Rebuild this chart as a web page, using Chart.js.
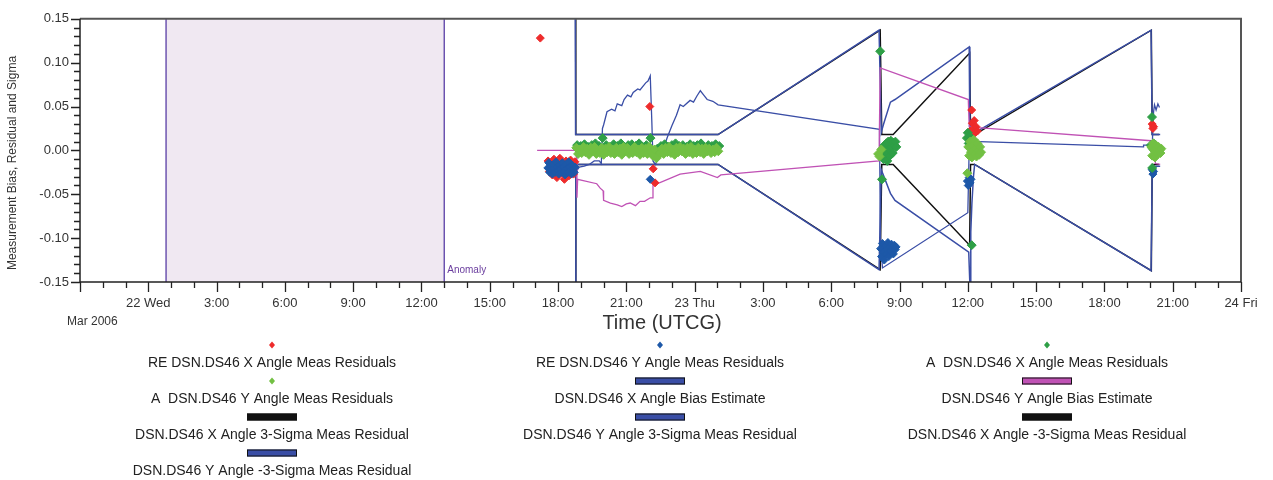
<!DOCTYPE html>
<html>
<head>
<meta charset="utf-8">
<script src="https://cdn.jsdelivr.net/npm/chart.js@4.4.1/dist/chart.umd.min.js"></script>
<style>
  html, body { margin: 0; padding: 0; background: #ffffff; }
  #wrap { width: 1273px; height: 480px; position: relative; }
</style>
</head>
<body>
<div id="wrap"><canvas id="chart" width="1273" height="480"></canvas></div>
<script>
// Time is measured in hours from 2006-03-22 00:00 UTCG.
const axisStartHour = -3;
const axisEndHour = 48;
const anomalyStartHour = 0.78;
const anomalyEndHour = 13.0;

// Axis ticks
const timeTickHours = [0, 3, 6, 9, 12, 15, 18, 21, 24, 27, 30, 33, 36, 39, 42, 45, 48];
const timeTickLabels = ['22 Wed', '3:00', '6:00', '9:00', '12:00', '15:00', '18:00', '21:00',
  '23 Thu', '3:00', '6:00', '9:00', '12:00', '15:00', '18:00', '21:00', '24 Fri'];
const valueTicks = [-0.15, -0.10, -0.05, 0.00, 0.05, 0.10, 0.15];

// RE DSN.DS46 X Angle Meas Residuals
const reXTimes = [17.22, 17.56, 17.62, 17.69, 17.75, 17.82, 17.88, 17.95, 18.02, 18.08, 18.15, 18.22,
  18.28, 18.35, 18.42, 18.48, 18.55, 18.62, 18.68, 18.74, 22.03, 22.18, 22.26,
  36.10, 36.17, 36.20, 36.24, 36.28, 36.32, 36.36, 36.42, 44.10, 44.13, 44.16];
const reXValues = [0.128, -0.012, -0.024, -0.016, -0.028, -0.010, -0.021, -0.031, -0.014, -0.009, -0.026, -0.018,
  -0.033, -0.012, -0.022, -0.029, -0.011, -0.020, -0.027, -0.013, 0.050, -0.021, -0.037,
  0.022, 0.046, 0.031, 0.024, 0.034, 0.020, 0.027, 0.022, 0.030, 0.025, 0.027];

// RE DSN.DS46 Y Angle Meas Residuals
const reYTimes = [17.55, 17.59, 17.63, 17.67, 17.71, 17.75, 17.79, 17.83, 17.87, 17.91, 17.95, 17.99,
  18.03, 18.07, 18.11, 18.15, 18.19, 18.23, 18.27, 18.31, 18.35, 18.39, 18.43, 18.47, 18.51, 18.55,
  18.59, 18.63, 18.67, 18.71, 18.75, 22.05,
  32.17, 32.21, 32.25, 32.29, 32.33, 32.37, 32.41, 32.45, 32.49, 32.53, 32.57, 32.61, 32.65, 32.69,
  32.73, 32.77, 32.81, 32.85,
  35.98, 36.02, 36.06, 36.10, 36.14, 44.10, 44.13, 44.16];
const reYValues = [-0.020, -0.014, -0.025, -0.018, -0.022, -0.027, -0.016, -0.021, -0.025, -0.013, -0.019, -0.023,
  -0.027, -0.017, -0.021, -0.025, -0.014, -0.019, -0.024, -0.028, -0.016, -0.021, -0.025, -0.013, -0.019, -0.023,
  -0.027, -0.017, -0.021, -0.025, -0.019, -0.033,
  -0.112, -0.121, -0.106, -0.116, -0.125, -0.109, -0.118, -0.113, -0.105, -0.121, -0.110, -0.115, -0.107, -0.112,
  -0.118, -0.108, -0.113, -0.110,
  -0.035, -0.040, -0.031, -0.037, -0.033, -0.022, -0.027, -0.024];

// A DSN.DS46 X Angle Meas Residuals: first pass sampled every 0.16 h, other points listed
const aXPass1Start = 18.84;
const aXPass1Step = 0.16;
const aXPass1Values = [0.006, 0.005, 0.007, 0.004, 0.006, 0.008, 0.005, 0.014, 0.006, 0.004,
  0.007, 0.005, 0.008, 0.004, 0.006, 0.007, 0.005, 0.008, 0.004, 0.006,
  0.003, -0.004, 0.002, 0.005, 0.007, 0.004, 0.006, 0.008, 0.005, 0.006,
  0.004, 0.007, 0.005, 0.006, 0.008, 0.004, 0.006, 0.005, 0.007, 0.005];
const aXTimes = [22.06, 32.15, 32.23, 32.26, 32.30, 32.34, 32.38, 32.42, 32.46, 32.50, 32.54, 32.58, 32.62,
  32.66, 32.70, 32.74, 32.78, 32.82, 32.86,
  35.96, 36.00, 36.04, 36.08, 36.12, 36.16, 36.17,
  44.04, 44.09, 44.10, 44.12, 44.16];
const aXValues = [0.014, 0.113, -0.033, 0.002, -0.010, 0.006, -0.004, 0.008, -0.012, 0.010, 0.002, -0.006, 0.011,
  0.004, -0.003, 0.009, 0.006, 0.010, 0.004,
  0.014, 0.020, 0.008, 0.016, 0.004, 0.012, -0.108,
  0.006, 0.038, -0.020, 0.002, 0.008];

// A DSN.DS46 Y Angle Meas Residuals: first pass sampled every 0.08 h, other points listed
const aYPass1Start = 18.80;
const aYPass1Step = 0.08;
const aYPass1Values = [0.003, -0.004, 0.001, -0.003, 0.004, -0.002, 0.002, -0.005, 0.003, -0.001,
  0.004, -0.004, 0.000, -0.003, 0.003, -0.005, 0.002, -0.002, 0.004, -0.003,
  0.001, -0.004, 0.003, -0.002, 0.002, -0.005, 0.004, -0.001, 0.003, -0.004,
  0.000, -0.003, 0.004, -0.002, 0.001, -0.005, 0.003, -0.003, 0.002, -0.004,
  0.004, -0.002, -0.006, 0.001, -0.009, -0.006, -0.003, 0.002, -0.004, 0.003,
  -0.002, 0.004, -0.003, 0.001, -0.005, 0.003, -0.002, 0.004, -0.001, 0.002,
  -0.004, 0.003, -0.002, 0.004, -0.004, 0.001, -0.003, 0.003, -0.002, 0.002,
  -0.004, 0.003, -0.001, 0.002, -0.003, 0.001, -0.002, 0.003, -0.001];
const aYTimes = [32.06, 32.12, 32.20,
  35.98, 36.02, 36.06, 36.10, 36.14, 36.18, 36.22, 36.26, 36.30, 36.34, 36.38, 36.42, 36.46, 36.50, 36.54, 36.58,
  44.06, 44.10, 44.14, 44.18, 44.22, 44.26, 44.30, 44.34, 44.38, 44.42, 44.46, 44.50];
const aYValues = [-0.004, -0.007, 0.001,
  -0.026, 0.004, -0.006, 0.010, -0.002, -0.008, 0.006, 0.012, -0.004, 0.002, -0.007, 0.008, 0.000, -0.005, 0.004, -0.002,
  0.004, -0.006, 0.008, 0.000, -0.008, 0.006, 0.002, -0.004, 0.004, 0.000, -0.003, 0.002];

// DSN.DS46 X Angle Bias Estimate
const xBiasTimes = [18.80, 18.93, 19.15, 19.37, 19.59, 19.81, 19.90, 19.95, 20.00, 20.15, 20.35, 20.50, 20.60,
  20.80, 20.90, 21.05, 21.20, 21.30, 21.50, 21.60, 21.85, 21.95, 22.05, 22.12, 22.17, 22.27, 22.40, 22.60,
  22.80, 23.00, 23.20, 23.36, 23.50, 23.80, 23.95, 24.10, 24.25, 24.40, 24.55, 24.80, 25.03,
  32.12, 32.16, 32.25, 36.00, 36.05, 36.30, 36.50, 43.70, 43.72, 44.10, 44.16, 44.20, 44.27, 44.35, 44.42];
const xBiasValues = [-0.024, -0.019, -0.018, -0.016, -0.012, -0.012, -0.015, 0.025, 0.029, 0.044, 0.047, 0.045, 0.053,
  0.051, 0.058, 0.063, 0.061, 0.066, 0.070, 0.069, 0.077, 0.079, 0.085, 0.032, -0.012, -0.016, -0.010, 0.000,
  0.015, 0.028, 0.040, 0.052, 0.050, 0.057, 0.055, 0.062, 0.068, 0.063, 0.058, 0.056, 0.052,
  0.024, -0.100, -0.134, -0.071, -0.010, 0.010, 0.010, 0.004, 0.006, 0.006, 0.044, 0.052, 0.046, 0.053, 0.049];

// DSN.DS46 Y Angle Bias Estimate
const yBiasTimes = [17.08, 18.72, 18.80, 18.83, 18.86, 19.70, 19.85, 19.98, 20.00, 20.30, 20.60, 20.80, 21.00,
  21.17, 21.40, 21.60, 21.80, 22.05, 22.14, 22.17, 22.45, 23.36, 24.25, 25.00, 25.15,
  32.10, 32.15, 36.02, 36.06, 36.45, 44.06, 44.22, 44.24, 44.45];
const yBiasValues = [0.000, 0.000, -0.001, -0.054, -0.033, -0.038, -0.043, -0.046, -0.057, -0.060, -0.062, -0.064, -0.061,
  -0.060, -0.063, -0.058, -0.058, -0.054, -0.054, -0.038, -0.037, -0.027, -0.024, -0.031, -0.028,
  -0.012, 0.094, 0.058, 0.027, 0.026, 0.011, 0.011, -0.015, -0.016];

// DSN.DS46 X Angle +/-3-Sigma Meas Residual
const xSigmaTimes = [18.76, 18.78, 25.03, 32.15, 32.22, 32.72, 36.08, 36.12, 36.30, 44.06, 44.10, 44.40];
const xSigmaPlus = [0.40, 0.018, 0.018, 0.137, 0.018, 0.018, 0.111, 0.018, 0.018, 0.137, 0.018, 0.018];
const xSigmaMinus = [-0.40, -0.016, -0.016, -0.136, -0.016, -0.016, -0.108, -0.016, -0.016, -0.137, -0.016, -0.016];

// DSN.DS46 Y Angle 3-Sigma Meas Residual
const ySigmaPlusTimes = [18.73, 18.77, 25.03, 32.10, 32.20, 32.30, 32.60, 32.80, 36.06, 36.09, 36.30, 36.50,
  44.05, 44.10, 44.45];
const ySigmaPlus = [0.40, 0.018, 0.018, 0.137, 0.021, 0.030, 0.055, 0.058, 0.118, 0.018, 0.018, 0.023,
  0.137, 0.018, 0.018];

// DSN.DS46 Y Angle -3-Sigma Meas Residual
const ySigmaMinusTimes = [18.76, 18.78, 25.03, 32.10, 32.20, 32.60, 32.80, 36.04, 36.10, 36.13, 36.18, 36.25,
  36.30, 44.05, 44.10, 44.45];
const ySigmaMinus = [-0.40, -0.016, -0.016, -0.136, -0.022, -0.049, -0.057, -0.116, -0.160, -0.093, -0.060, -0.029,
  -0.016, -0.137, -0.018, -0.018];

const pairs = (times, values) => times.map((t, i) => ({ x: t, y: values[i] }));
const sampled = (start, step, values) => values.map((v, i) => ({ x: start + i * step, y: v }));

const COLORS = {
  red: '#ee2b2b',
  blueDot: '#1d58a8',
  darkGreen: '#2e9f46',
  lightGreen: '#72c043',
  blueLine: '#3a4ea6',
  magenta: '#c052b5',
  black: '#111111'
};

function pointSet(label, data, color, order, radius) {
  return {
    label, data, order,
    showLine: false,
    pointStyle: 'rectRot',
    pointRadius: radius,
    pointBorderWidth: 1,
    backgroundColor: color,
    borderColor: color
  };
}
function lineSet(label, data, color, order, width) {
  return {
    label, data, order,
    showLine: true,
    pointRadius: 0,
    borderWidth: width,
    borderColor: color,
    backgroundColor: color,
    tension: 0,
    fill: false
  };
}

const datasets = [
  pointSet('RE DSN.DS46 X Angle Meas Residuals', pairs(reXTimes, reXValues), COLORS.red, 3, 4),
  pointSet('RE DSN.DS46 Y Angle Meas Residuals', pairs(reYTimes, reYValues), COLORS.blueDot, 2, 4),
  pointSet('A  DSN.DS46 X Angle Meas Residuals',
    sampled(aXPass1Start, aXPass1Step, aXPass1Values).concat(pairs(aXTimes, aXValues)), COLORS.darkGreen, 1, 4.5),
  pointSet('A  DSN.DS46 Y Angle Meas Residuals',
    sampled(aYPass1Start, aYPass1Step, aYPass1Values).concat(pairs(aYTimes, aYValues)), COLORS.lightGreen, 0, 4.5),
  lineSet('DSN.DS46 X Angle Bias Estimate', pairs(xBiasTimes, xBiasValues), COLORS.blueLine, 5, 1.3),
  lineSet('DSN.DS46 Y Angle Bias Estimate', pairs(yBiasTimes, yBiasValues), COLORS.magenta, 4, 1.3),
  lineSet('DSN.DS46 X Angle 3-Sigma Meas Residual', pairs(xSigmaTimes, xSigmaPlus), COLORS.black, 9, 1.5),
  lineSet('DSN.DS46 Y Angle 3-Sigma Meas Residual', pairs(ySigmaPlusTimes, ySigmaPlus), COLORS.blueLine, 7, 1.5),
  lineSet('DSN.DS46 X Angle -3-Sigma Meas Residual', pairs(xSigmaTimes, xSigmaMinus), COLORS.black, 8, 1.5),
  lineSet('DSN.DS46 Y Angle -3-Sigma Meas Residual', pairs(ySigmaMinusTimes, ySigmaMinus), COLORS.blueLine, 6, 1.5)
];

const FONT = "'Liberation Sans', Arial, Helvetica, sans-serif";
Chart.defaults.font.family = FONT;
Chart.defaults.color = '#333333';

// Anomaly band, plot frame, tick marks, titles and the three-column legend
const decorations = {
  id: 'decorations',
  beforeDatasetsDraw(chart) {
    const { ctx, chartArea: a, scales: { x } } = chart;
    const x0 = x.getPixelForValue(anomalyStartHour);
    const x1 = x.getPixelForValue(anomalyEndHour);
    ctx.save();
    ctx.fillStyle = '#f0e8f2';
    ctx.fillRect(x0, a.top, x1 - x0, a.bottom - a.top);
    ctx.strokeStyle = '#5a3ea6';
    ctx.lineWidth = 1.3;
    ctx.beginPath();
    ctx.moveTo(x0, a.top); ctx.lineTo(x0, a.bottom);
    ctx.moveTo(x1, a.top); ctx.lineTo(x1, a.bottom);
    ctx.stroke();
    ctx.fillStyle = '#6a3d9e';
    ctx.font = '10px ' + FONT;
    ctx.textAlign = 'left';
    ctx.textBaseline = 'middle';
    ctx.fillText('Anomaly', x1 + 3, a.bottom - 12);
    ctx.restore();
  },
  afterDraw(chart) {
    const { ctx, chartArea: a, scales: { x, y } } = chart;
    ctx.save();
    // frame
    ctx.strokeStyle = '#555555';
    ctx.lineWidth = 2;
    ctx.beginPath();
    ctx.moveTo(a.left, a.top); ctx.lineTo(a.right, a.top); ctx.lineTo(a.right, a.bottom);
    ctx.stroke();
    ctx.strokeStyle = '#222222';
    ctx.lineWidth = 1.5;
    ctx.beginPath();
    ctx.moveTo(a.left, a.top); ctx.lineTo(a.left, a.bottom); ctx.lineTo(a.right, a.bottom);
    ctx.stroke();
    // hourly tick marks, longer every 3 hours
    ctx.lineWidth = 1.3;
    ctx.beginPath();
    for (let h = axisStartHour; h <= axisEndHour; h++) {
      const px = Math.round(x.getPixelForValue(h)) + 0.5;
      const len = (h % 3 === 0) ? 10 : 6;
      ctx.moveTo(px, a.bottom); ctx.lineTo(px, a.bottom + len);
    }
    // value tick marks every 0.01, longer every 0.05
    for (let k = -15; k <= 15; k++) {
      const py = Math.round(y.getPixelForValue(k / 100)) + 0.5;
      const len = (k % 5 === 0) ? 9 : 6;
      ctx.moveTo(a.left - len, py); ctx.lineTo(a.left, py);
    }
    ctx.stroke();

    // axis titles
    ctx.fillStyle = '#333333';
    ctx.textAlign = 'center';
    ctx.textBaseline = 'middle';
    ctx.font = '20px ' + FONT;
    ctx.fillText('Time (UTCG)', 662, 323);
    ctx.font = '12px ' + FONT;
    ctx.textAlign = 'left';
    ctx.fillText('Mar 2006', 67, 322);
    ctx.save();
    ctx.translate(13, 163);
    ctx.rotate(-Math.PI / 2);
    ctx.textAlign = 'center';
    ctx.font = '12px ' + FONT;
    ctx.fillText('Measurement Bias, Residual and Sigma', 0, 0);
    ctx.restore();

    // legend: three columns, marker above label
    const colCenters = [272, 660, 1047];
    const firstMarkerY = 345;
    const rowStep = 36;
    chart.data.datasets.forEach((ds, i) => {
      const cx = colCenters[i % 3];
      const my = firstMarkerY + Math.floor(i / 3) * rowStep;
      if (ds.showLine) {
        ctx.fillStyle = ds.borderColor;
        ctx.fillRect(cx - 25, my - 3.5, 50, 7);
        ctx.strokeStyle = '#111111';
        ctx.lineWidth = 1;
        ctx.strokeRect(cx - 25 + 0.5, my - 3.5 + 0.5, 49, 6);
      } else {
        ctx.fillStyle = ds.backgroundColor;
        ctx.beginPath();
        ctx.moveTo(cx, my - 3.5); ctx.lineTo(cx + 3, my); ctx.lineTo(cx, my + 3.5); ctx.lineTo(cx - 3, my);
        ctx.closePath();
        ctx.fill();
      }
      ctx.fillStyle = '#222222';
      ctx.font = '14px ' + FONT;
      ctx.textAlign = 'center';
      ctx.textBaseline = 'middle';
      ctx.fillText(ds.label, cx, my + 18);
    });
    ctx.restore();
  }
};

new Chart(document.getElementById('chart'), {
  type: 'scatter',
  data: { datasets },
  options: {
    responsive: false,
    animation: false,
    events: [],
    layout: { padding: { left: 0, right: 32, top: 15, bottom: 0 } },
    plugins: { legend: { display: false }, tooltip: { enabled: false } },
    scales: {
      x: {
        type: 'linear',
        min: axisStartHour,
        max: axisEndHour,
        afterBuildTicks(scale) { scale.ticks = timeTickHours.map(v => ({ value: v })); },
        afterFit(scale) { scale.height = 198; },
        ticks: {
          autoSkip: false,
          maxRotation: 0,
          padding: 14,
          color: '#333333',
          font: { size: 13 },
          callback: (v, i) => timeTickLabels[i]
        },
        grid: { display: false, drawTicks: false },
        border: { display: false }
      },
      y: {
        type: 'linear',
        min: -0.15,
        max: 0.15,
        afterBuildTicks(scale) { scale.ticks = valueTicks.map(v => ({ value: v })); },
        afterFit(scale) { scale.width = 80; },
        ticks: {
          autoSkip: false,
          padding: 11,
          color: '#333333',
          font: { size: 13 },
          callback: (v) => Number(v).toFixed(2)
        },
        grid: { display: false, drawTicks: false },
        border: { display: false }
      }
    }
  },
  plugins: [decorations]
});
</script>
</body>
</html>
